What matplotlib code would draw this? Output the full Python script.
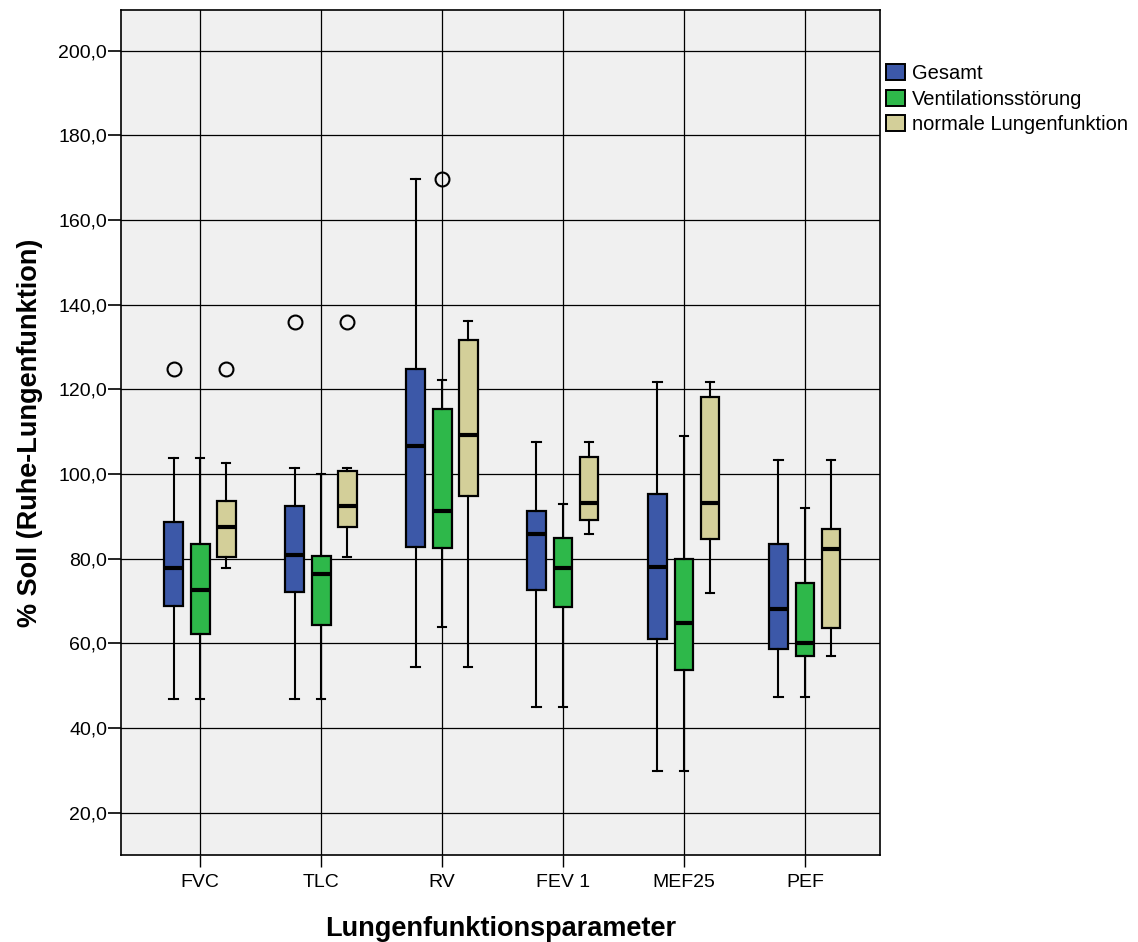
import matplotlib
matplotlib.use("Agg")
import matplotlib.pyplot as plt
from matplotlib.patches import Patch
from matplotlib.ticker import FuncFormatter

plt.rcParams['font.family'] = ['Liberation Sans', 'DejaVu Sans']

# Lungenfunktionsparameter, je Gruppe: (unt. Whisker, Q1, Median, Q3, ob. Whisker)
parameter = ['FVC', 'TLC', 'RV', 'FEV 1', 'MEF25', 'PEF']
gruppen = ['Gesamt', 'Ventilationsstörung', 'normale Lungenfunktion']
farben = ['#3C58A8', '#2EB84A', '#D3CF99']

gesamt = [
    (46.9, 68.9, 77.9, 88.7, 103.8),
    (46.9, 72.2, 80.8, 92.5, 101.5),
    (54.5, 82.7, 106.7, 124.7, 169.6),
    (45.0, 72.6, 85.9, 91.2, 107.6),
    (29.9, 61.1, 78.0, 95.3, 121.7),
    (47.2, 58.6, 68.2, 83.5, 103.2),
]
ventilation = [
    (46.9, 62.3, 72.5, 83.4, 103.8),
    (46.9, 64.3, 76.4, 80.7, 99.9),
    (63.8, 82.6, 91.2, 115.3, 122.3),
    (45.0, 68.6, 77.9, 84.9, 92.9),
    (29.9, 53.7, 64.7, 79.9, 109.0),
    (47.2, 56.9, 60.1, 74.3, 92.0),
]
normal = [
    (77.7, 80.4, 87.4, 93.7, 102.7),
    (80.3, 87.5, 92.4, 100.6, 101.5),
    (54.5, 94.7, 109.1, 131.6, 136.1),
    (85.9, 89.1, 93.1, 104.1, 107.6),
    (71.8, 84.7, 93.2, 118.1, 121.7),
    (56.9, 63.5, 82.2, 86.9, 103.2),
]
ausreisser_gesamt = [[124.8], [135.8], [], [], [], []]
ausreisser_ventilation = [[], [], [169.6], [], [], []]
ausreisser_normal = [[124.8], [135.8], [], [], [], []]

serien = [(gesamt, ausreisser_gesamt), (ventilation, ausreisser_ventilation),
          (normal, ausreisser_normal)]
offsets = [-0.22, 0.0, 0.215]

fig = plt.figure(figsize=(11.38, 9.42), dpi=100)
ax = fig.add_axes([0.1063, 0.0924, 0.667, 0.897])
ax.set_facecolor('#F0F0F0')

for (werte, ausr), off, farbe in zip(serien, offsets, farben):
    stats = []
    for w, a in zip(werte, ausr):
        lo, q1, med, q3, hi = w
        stats.append(dict(whislo=lo, q1=q1, med=med, q3=q3, whishi=hi, fliers=a))
    pos = [i + off for i in range(len(parameter))]
    ax.bxp(stats, positions=pos, widths=0.155, capwidths=0.07,
           patch_artist=True, showfliers=True, manage_ticks=False, zorder=3,
           boxprops=dict(facecolor=farbe, edgecolor='black', linewidth=1.6),
           medianprops=dict(color='black', linewidth=3),
           whiskerprops=dict(color='black', linewidth=1.5),
           capprops=dict(color='black', linewidth=1.5),
           flierprops=dict(marker='o', markersize=10, markerfacecolor='none',
                           markeredgecolor='black', markeredgewidth=1.5))

ax.set_xlim(-0.655, 5.62)
ax.set_ylim(10, 209.6)
ax.set_yticks(range(20, 201, 20))
ax.yaxis.set_major_formatter(FuncFormatter(lambda v, p: f'{v:.1f}'.replace('.', ',')))
ax.set_xticks(range(len(parameter)))
ax.set_xticklabels(parameter)
ax.grid(True, color='black', linewidth=0.9, zorder=1)
ax.set_axisbelow(True)
ax.tick_params(axis='y', length=9.5, width=1.2, labelsize=14, pad=0.5)
ax.tick_params(axis='x', length=8.5, width=1, labelsize=14, pad=5)
for s in ax.spines.values():
    s.set_linewidth(1.2)

ax.set_ylabel('% Soll (Ruhe-Lungenfunktion)', fontsize=19.5, fontweight='bold', labelpad=11)
ax.set_xlabel('Lungenfunktionsparameter', fontsize=19.5, fontweight='bold', labelpad=18)

handles = [Patch(facecolor=c, edgecolor='black', linewidth=1.4) for c in farben]
fig.legend(handles, gruppen, loc='upper left', bbox_to_anchor=(0.7786, 0.932),
           frameon=False, fontsize=14.5, handlelength=0.95, handleheight=0.85,
           handletextpad=0.35, labelspacing=0.33, borderaxespad=0, borderpad=0)

fig.savefig('out.png', dpi=100)
